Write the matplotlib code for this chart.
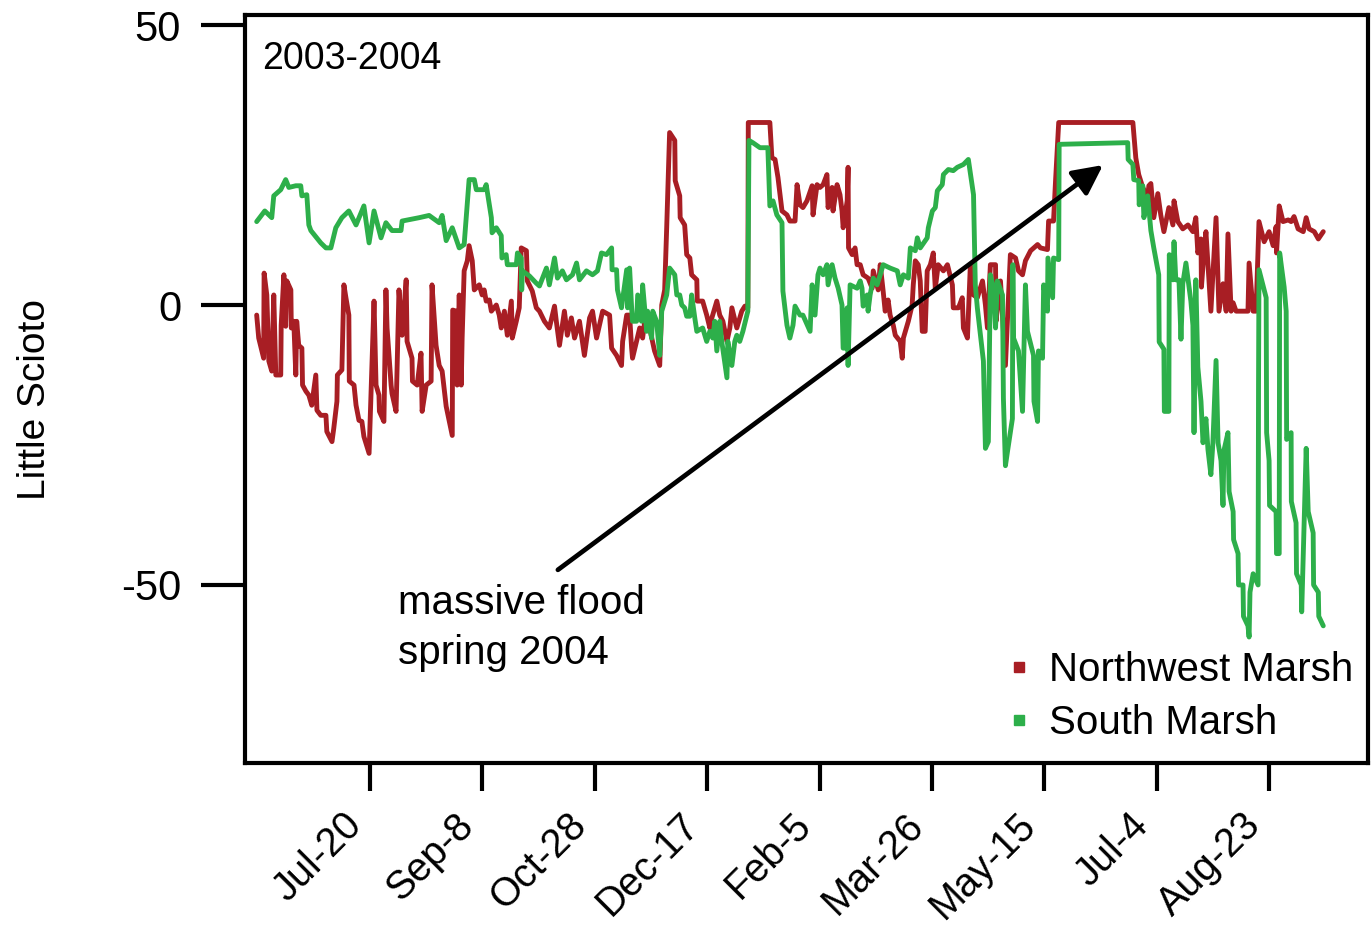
import matplotlib
matplotlib.use("Agg")
import matplotlib.pyplot as plt
import matplotlib.transforms as mtransforms
from matplotlib.lines import Line2D

plt.rcParams['font.family'] = ['Liberation Sans', 'DejaVu Sans']

# x = days since Jul-20-2003, y = water level (Little Scioto)
tick_days = [0, 50, 100, 150, 200, 250, 300, 350, 400]
tick_labels = ["Jul-20", "Sep-8", "Oct-28", "Dec-17", "Feb-5", "Mar-26", "May-15", "Jul-4", "Aug-23"]
y_ticks = [50, 0, -50]

nw_days = [-50.4, -49.5, -47.3, -47.1, -45.9, -45.0, -43.7, -42.8, -41.9, -39.7, -39.5, -38.3, -37.5, -37.0,
           -35.2, -35.0, -33.9, -33.0, -32.6, -31.7, -30.3, -30.0, -28.5, -27.2, -25.9, -24.1, -23.6, -21.9,
           -19.6, -19.2, -16.9, -16.1, -14.7, -14.5, -12.5, -11.6, -10.7, -9.4, -9.2, -7.1, -6.2, -4.9, -3.6,
           -2.7, -0.4, 1.8, 2.7, 4.0, 4.2, 6.2, 7.1, 7.6, 9.4, 9.8, 11.6, 12.9, 14.3, 16.1, 16.5, 18.7, 18.9,
           21.0, 22.7, 23.2, 25.0, 27.2, 27.6, 29.4, 30.8,
           32.1, 33.9, 36.6, 36.8, 38.4, 38.8, 39.7, 40.6, 41.0, 41.9, 43.3, 44.1, 45.5, 46.4, 48.6, 49.9,
           50.8, 51.7, 53.1, 54.0, 56.2, 57.5, 58.4, 59.8, 61.1, 62.9, 63.3, 65.1, 66.4, 67.3, 69.6, 70.0,
           72.2, 74.0, 75.4, 77.6, 79.8, 82.1, 82.9, 84.3, 86.5, 87.8, 89.6, 91.0, 93.2, 95.4, 97.7, 99.0,
           100.8, 103.5, 106.6, 107.5, 109.7, 111.9, 112.4, 114.2,
           115.5, 116.4, 116.8, 118.6, 120.0, 121.3, 122.2, 124.4, 126.6, 128.9, 129.8, 131.1, 132.0, 133.3,
           135.6, 135.8, 137.8, 138.0, 140.0, 140.9, 142.3, 143.1, 145.4, 145.6, 148.0, 149.8, 151.2, 152.1,
           154.3, 155.6, 157.0, 158.8, 160.1, 161.0, 163.2, 165.4, 166.8, 168.1, 168.3, 177.9, 178.8, 180.2,
           181.5, 183.3, 185.5, 186.8, 189.1, 190.0, 191.3, 192.6, 194.4, 196.7, 197.1, 198.9, 200.2,
           201.6, 203.3, 203.8, 205.6, 206.0, 207.8, 209.1, 210.0, 210.5, 212.3, 212.7, 212.9, 214.5, 215.8,
           216.7, 218.1, 219.4, 221.6, 223.4, 223.9, 226.1, 227.0, 228.3, 229.2, 230.5, 231.4, 232.8, 233.7,
           235.9, 236.8, 237.3, 239.5, 241.2, 241.7, 242.6, 243.9, 244.8, 245.7, 247.0, 247.9, 249.3, 250.6,
           251.5, 252.8, 255.1, 256.9, 259.1, 259.5, 261.8, 263.5, 264.0, 265.8, 267.1, 268.5, 270.2, 272.5,
           273.8, 274.7, 276.0, 278.3, 278.5, 280.5, 282.7,
           284.9, 287.2, 288.5, 290.3, 291.6, 293.9, 297.0, 298.3, 301.4, 301.9, 304.1, 305.0, 306.4, 339.4,
           340.7, 342.0, 343.8, 346.0, 346.5,
           347.4, 348.7, 350.5, 351.8, 353.2, 355.4, 357.2, 357.7, 359.4, 361.6, 363.9, 366.1, 367.4, 368.3,
           369.7, 369.9, 371.0, 371.9, 374.1, 376.4, 377.7, 379.5, 380.9, 381.7, 383.1, 384.0, 385.3, 390.6,
           391.1, 392.9, 394.2, 395.5, 397.8, 400.0, 401.8, 403.1, 403.3, 404.5, 406.2, 408.5, 409.8, 411.1,
           412.9, 415.2, 416.5, 417.8, 420.1, 421.9, 424.1]
nw_vals = [-1.8, -5.9, -9.5, 5.7, 1.8, -10.0, -11.8, 1.8, -12.5, -12.5, -3.6, 5.4, -3.8, 4.3,
           2.7, -4.1, -2.9, -12.5, -2.9, -7.2, -7.7, -14.3, -15.4, -16.1, -17.9, -12.5, -18.8, -19.7,
           -19.7, -22.6, -24.4, -22.0, -17.2, -12.5, -11.6, 3.6, 1.3, -1.8, -13.6, -14.3, -17.9, -20.6, -20.8,
           -23.5, -26.5, 0.7, -14.3, -16.1, -19.0, -20.8, 2.7, -4.1, -14.3, -15.8, -19.0, 2.7, -5.4, 4.5, -6.5, -9.5, -13.6,
           -14.3, -8.6, -19.0, -14.3, -13.6, 3.6, -7.2, -10.8,
           -11.8, -18.1, -23.3, -0.9, -1.1, -14.3, 1.8, -14.3, -5.9, 6.1, 7.9, 10.6, 7.9, 2.7, 3.6, 1.8,
           2.7, 0.7, 0.9, -1.1, 0.0, -1.8, -4.1, -1.1, -5.4, 0.7, -5.9, -2.9, -0.5, 10.2, 9.7, 4.3,
           2.5, -0.5, -1.1, -2.9, -4.1, -0.2, -2.9, -7.2, -1.1, -5.4, -2.3, -5.9, -2.9, -9.0, -2.3, -1.1,
           -5.9, -1.1, -1.8, -7.7, -9.0, -10.8, -6.5, -1.8,
           -1.8, -7.7, -9.5, -6.5, -4.1, -5.9, -2.9, -4.1, -8.2, -10.8, 0.0, 2.7, 13.8, 30.8,
           29.4, 22.2, 19.5, 15.6, 14.3, 9.0, 8.4, 5.4, 4.5, 0.7, 0.7, -1.8, -4.1, -2.3,
           0.7, -1.8, -2.9, -6.5, -4.1, -0.5, -4.1, -1.1, -0.2, -0.5, 32.6, 32.6, 26.3, 26.0,
           22.8, 16.8, 16.1, 15.0, 15.0, 21.5, 17.9, 17.4, 18.6, 21.3, 16.1, 21.5, 21.0,
           21.5, 23.3, 17.4, 21.0, 16.8, 21.5, 19.7, 16.8, 13.8, 18.6, 24.6, 10.2, 9.0, 10.2,
           7.2, 7.2, 5.4, 4.8, 3.0, 6.1, 2.7, 7.2, 2.5, -1.1, 0.9, -1.8, -3.6, -5.4,
           -6.5, -9.5, -5.9, -2.9, 0.0, 3.6, 7.9, 7.2, 4.3, -4.7, -4.7, 6.1, 7.2, 9.3,
           3.0, 7.2, 6.1, 7.2, 3.6, -0.5, -0.5, 1.3, -4.1, -5.9, 7.2, 1.8, 1.3, 4.3,
           0.0, -4.1, 7.2, 7.2, -2.9, 4.3, -10.8,
           9.0, 8.4, 6.1, 5.4, 7.9, 9.7, 10.8, 10.2, 9.9, 15.0, 15.0, 22.2, 32.6, 32.6,
           26.3, 23.3, 21.0, 19.2, 21.3,
           21.7, 15.6, 19.9, 16.1, 13.1, 17.4, 14.3, 18.6, 14.9, 13.6, 14.3, 13.1, 15.6, 9.3,
           11.8, 3.2, 9.3, 13.1, -1.1, 15.6, -1.1, 3.8, -1.1, 12.7, -1.1, 0.4, -1.1, -1.1,
           7.5, -1.1, -1.1, 14.9, 11.3, 13.1, 10.6, 14.0, 9.3, 17.7, 14.9, 15.2, 14.9, 15.8,
           13.6, 13.1, 15.6, 13.6, 13.1, 11.8, 13.1]

s_days = [-50.4, -46.8, -43.7, -42.8, -39.7, -37.5, -36.1, -33.0, -30.8, -30.3, -28.1, -27.2, -26.3, -21.9,
          -19.6, -17.4, -15.2, -12.5, -9.4, -6.2, -2.7, -0.4, 1.8, 4.9, 7.1, 9.8, 13.8, 14.3, 21.9, 26.3, 30.8,
          32.1, 33.9, 36.6, 39.7, 41.9, 44.1, 46.4, 47.3, 50.8, 51.7, 54.0, 54.3, 56.2, 58.4, 58.7, 60.6,
          61.1, 65.1, 65.6, 67.3, 67.5, 67.8, 70.9, 74.0, 75.4, 78.5, 79.8, 82.1, 83.4, 85.6, 87.4, 90.1,
          91.9, 93.2, 96.3, 99.0, 101.2, 103.0, 105.2, 107.5, 107.7, 109.7, 110.1, 111.9, 114.2, 114.6,
          115.5, 116.4, 116.8, 118.6, 119.1, 120.8, 121.3, 123.1, 123.5, 125.3, 125.8, 127.5, 128.9, 129.8,
          132.0, 133.3, 135.6, 136.5, 137.8, 138.7, 140.0, 140.9, 142.3, 143.1, 144.5, 145.4, 148.0, 149.8,
          151.2, 152.5, 153.4, 154.3, 155.6, 156.5, 158.8, 159.2, 161.0, 162.3, 163.2, 164.5, 165.9, 168.1,
          168.6, 170.3, 173.5, 177.0, 177.9, 179.3, 181.0, 183.3, 183.7, 185.5, 186.8, 188.2, 189.1, 191.3,
          192.6, 195.8, 196.7, 198.0, 199.3, 200.2,
          201.6, 203.3, 203.8, 205.6, 206.9, 208.3, 210.0, 210.5, 211.4, 212.3, 212.7, 213.6, 216.7, 218.1,
          218.9, 219.4, 221.2, 221.6, 222.5, 223.9, 225.6, 227.0, 228.3, 231.4, 234.6, 235.9, 237.3, 239.5,
          240.4, 242.6, 243.5, 244.8, 247.9, 248.4, 250.2, 251.5, 252.4, 254.6, 255.1, 257.3, 259.5, 261.3,
          264.0, 266.2, 268.5, 269.3, 270.2, 271.6, 272.9, 273.8, 275.1, 276.0, 277.4, 278.3, 279.1, 281.4,
          281.8, 282.7,
          283.6, 285.8, 286.0, 286.3, 288.5, 290.3, 291.6, 292.5, 295.2, 295.4, 297.0, 297.4, 299.2, 299.7,
          301.4, 301.6, 303.7, 304.1, 306.4, 306.6, 337.1, 337.3, 339.4, 339.8, 342.0, 342.2, 343.8, 344.3,
          346.0, 347.4, 348.7,
          350.9, 351.1, 353.2, 353.4, 355.4, 355.6, 357.2, 357.7, 358.5, 359.9, 360.8, 361.6, 363.0, 365.2,
          366.1, 366.6, 367.4, 368.3, 369.7, 370.6, 371.9, 372.8, 374.1, 375.0, 376.4, 377.3, 378.6, 379.5,
          379.9, 381.7, 382.2, 384.0, 384.2, 386.2, 386.4, 388.4, 388.6, 390.6, 391.1, 391.5, 392.9, 395.1,
          395.3, 395.5, 398.7, 398.9, 400.0, 400.2, 403.1, 403.3, 404.5, 404.7, 406.7, 407.6, 407.8, 409.8,
          409.9, 412.0, 412.2, 414.3, 414.5, 416.5, 417.4, 419.6, 419.8, 421.9, 422.1, 424.1]
s_vals = [14.9, 16.8, 15.6, 19.5, 20.6, 22.4, 21.0, 21.3, 21.3, 19.5, 19.7, 14.3, 13.3, 11.1,
          10.2, 10.2, 13.8, 15.6, 16.8, 14.3, 17.7, 11.1, 16.8, 12.0, 14.7, 13.3, 13.3, 15.0, 15.6, 16.0, 14.7,
          16.0, 11.5, 13.8, 10.2, 10.8, 22.4, 22.4, 20.6, 20.6, 21.5, 15.6, 12.9, 13.8, 12.4, 8.4, 9.0,
          7.2, 7.2, 9.3, 8.4, 2.7, 6.1, 5.2, 3.9, 3.4, 6.6, 3.6, 8.4, 4.8, 6.1, 4.5, 5.4,
          7.5, 4.5, 6.1, 5.4, 6.1, 9.3, 9.0, 10.2, 6.3, 6.3, 2.7, -0.5, 6.3, -0.5,
          6.6, -0.5, -2.9, -2.9, 1.8, -2.9, 3.6, -4.7, -1.1, -5.9, -1.1, -2.9, -9.0, -1.1,
          1.8, 6.6, 5.4, 1.8, 1.8, 0.0, -0.5, -2.0, -2.0, 1.8, -2.3, -4.7, -4.1, -6.5,
          -4.7, -5.9, -2.9, -8.2, -2.9, -6.5, -13.0, -6.5, -10.8, -6.5, -5.4, -6.5, -4.7, -1.1,
          29.4, 29.0, 28.1, 28.1, 17.7, 18.6, 16.1, 14.7, 2.5, -3.6, -5.9, -3.6, -0.2, -1.8,
          -1.8, -4.7, 3.6, -1.8, 5.4, 6.6,
          5.4, 7.2, 3.6, 7.2, 4.8, 3.0, 0.0, -7.7, -7.7, -0.5, -10.8, 3.6, 3.0, 4.3,
          3.0, -0.2, 1.8, -1.1, 1.8, 4.8, 3.6, 5.4, 7.2, 6.6, 6.1, 3.6, 5.4, 4.8,
          10.2, 9.7, 12.0, 10.2, 12.0, 13.8, 16.8, 17.4, 20.4, 21.5, 23.3, 24.2, 24.0, 24.6,
          25.1, 26.0, 19.7, 3.6, -0.5, -5.4, -10.0, -25.6, -24.4, 5.4, 3.0, -4.1, 4.3, 1.8,
          -16.7, -28.7,
          -26.2, -20.3, 7.2, -5.9, -8.2, -19.0, 3.6, -4.7, -9.0, -17.2, -20.8, -8.2, -9.5, 3.6,
          -1.1, 8.4, 1.3, 8.4, 8.1, 28.7, 29.0, 26.0, 25.1, 22.4, 22.2, 17.9, 21.3, 15.6,
          19.5, 13.3, 10.2,
          5.4, -6.6, -7.9, -19.0, -19.0, 9.0, 4.5, 11.3, 4.5, 4.5, -6.1, 3.8, 7.5, 0.7,
          -3.6, -22.8, 4.5, -11.1, -17.2, -24.6, -20.3, -25.8, -30.3, -24.6, -9.9, -24.6, -27.8, -35.8,
          -26.0, -22.8, -33.3, -36.9, -41.9, -44.4, -50.0, -50.0, -55.6, -57.3, -59.3, -51.3, -48.0, -50.0,
          -14.2, 6.3, 1.3, -22.8, -27.8, -35.8, -36.9, -44.4, -44.4, 9.3, 3.2, -1.1, -24.0, -22.8,
          -35.1, -38.9, -48.0, -50.0, -54.8, -25.6, -36.9, -40.7, -50.0, -51.3, -55.6, -57.3]

RED = "#A81E24"
GREEN = "#2DAF4A"

fig = plt.figure(figsize=(13.72, 9.26), dpi=100)
ax = fig.add_axes([245/1372, 1-763/926, (1368-245)/1372, (763-15)/926])

ax.plot(nw_days, nw_vals, color=RED, lw=3.5, solid_joinstyle='round', solid_capstyle='round')
ax.plot(s_days, s_vals, color=GREEN, lw=3.5, solid_joinstyle='round', solid_capstyle='round')

ax.set_xlim(-55.6, 444.0)
ax.set_ylim(-81.8, 51.8)
ax.set_xticks(tick_days)
ax.set_xticklabels([])
# rotated date labels, hung below and slightly left of each tick
lbl_trans = mtransforms.blended_transform_factory(ax.transData, ax.transAxes) + \
    mtransforms.ScaledTranslation(-28/100, -43/100, fig.dpi_scale_trans)
for d, lab in zip(tick_days, tick_labels):
    ax.text(d, 0, lab, transform=lbl_trans, rotation=45, ha='right', va='top',
            rotation_mode='anchor', fontsize=28.5, clip_on=False)
ax.set_yticks(y_ticks)
ax.set_yticklabels([str(v) for v in y_ticks], fontsize=30)
ax.tick_params(axis='y', length=32, width=3, pad=14, direction='out')
ax.tick_params(axis='x', length=20, width=3, pad=8, direction='out')
for sp in ax.spines.values():
    sp.set_linewidth(3)

ax.text(0.015, 0.965, "2003-2004", transform=ax.transAxes, ha='left', va='top', fontsize=27)

ax.annotate("", xy=(326.1, 25.0), xytext=(83.6, -47.3),
            arrowprops=dict(arrowstyle='-|>', lw=3.4, color='black', mutation_scale=45,
                            shrinkA=0, shrinkB=0))
ax.text(12.5, -49.9, "massive flood\nspring 2004", ha='left', va='top', fontsize=29, linespacing=1.4)

handles = [Line2D([], [], color=RED, marker='s', linestyle='none', markersize=7),
           Line2D([], [], color=GREEN, marker='s', linestyle='none', markersize=7)]
ax.legend(handles, ["Northwest Marsh", "South Marsh"], loc='upper left',
          bbox_to_anchor=(0.671, 0.150), frameon=False, fontsize=29,
          handletextpad=0.25, handlelength=1.0, borderpad=0, labelspacing=0.37, borderaxespad=0)

fig.text(35/1372, 1-399/926, "Little Scioto", rotation=90, ha='center', va='center', fontsize=28)

fig.savefig("out.png", dpi=100)
